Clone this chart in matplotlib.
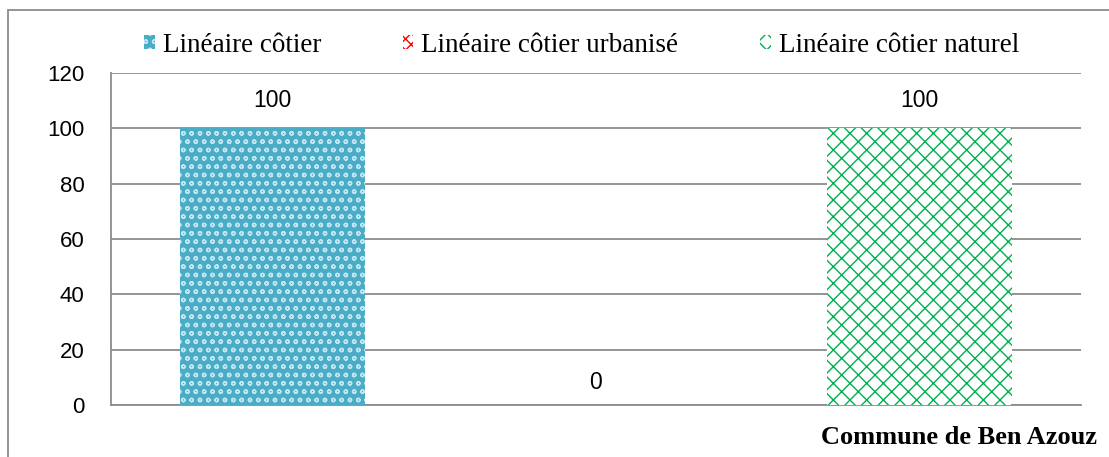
import matplotlib
matplotlib.use("Agg")
import matplotlib.pyplot as plt
from matplotlib.patches import Rectangle

categories = ["Linéaire côtier", "Linéaire côtier urbanisé", "Linéaire côtier naturel"]
values = [100, 0, 100]
yticks = [0, 20, 40, 60, 80, 100, 120]
commune = "Commune de Ben Azouz"

W, H = 1109, 457
fig = plt.figure(figsize=(W / 100, H / 100), dpi=100)
ax = fig.add_axes([111 / W, 1 - 405 / H, (1081 - 111) / W, (405 - 73) / H])

plt.rcParams["hatch.linewidth"] = 1.0
styles = [
    dict(facecolor="#4BACC6", edgecolor="#BFE6F2", hatch="oo", lw=0),
    dict(facecolor="white", edgecolor="#FF0000", hatch="xxx", lw=0),
    dict(facecolor="white", edgecolor="#00B050", hatch="xx", lw=0),
]

for i, (v, st) in enumerate(zip(values, styles)):
    ax.bar(i, v, width=0.573, label=categories[i], zorder=3, **st)
    ypos = v + 10 if v > 0 else 8
    ax.text(i, ypos, f"{v}", ha="center", va="center", fontsize=16.5,
            family="Liberation Sans")

ax.set_xlim(-0.5, 2.5)
ax.set_ylim(0, 120)
ax.set_yticks(yticks)
ax.set_yticklabels([str(t) for t in yticks], fontsize=16, family="Liberation Sans")
ax.set_xticks([])
ax.tick_params(axis="y", length=0, pad=19)
ax.grid(axis="y", color="#8C8C8C", lw=1.3, zorder=0)
for s in ("top", "right"):
    ax.spines[s].set_visible(False)
for s in ("left", "bottom"):
    ax.spines[s].set_color("#8C8C8C")
    ax.spines[s].set_linewidth(1.3)

leg = ax.legend(loc="center", bbox_to_anchor=(0.485, 1 + 28 / 332), ncol=3,
                frameon=False, prop={"family": "Liberation Serif", "size": 19.5},
                handlelength=0.4, handleheight=0.4, handletextpad=0.3,
                columnspacing=3.0, borderpad=0)

fig.text(1097 / W, 1 - 437 / H, commune, ha="right", va="center",
         fontsize=19, fontweight="bold", family="Liberation Serif")

# outer chart frame
fig.patches.append(Rectangle((8 / W, -0.1), 1.2, 1 - 10 / H + 0.1,
                             transform=fig.transFigure, fill=False,
                             edgecolor="#8C8C8C", lw=1.3))

fig.savefig("out.png", dpi=100)
